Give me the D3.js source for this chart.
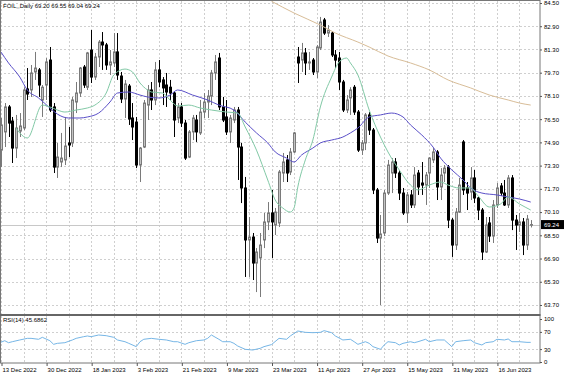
<!DOCTYPE html>
<html>
<head>
<meta charset="utf-8">
<script src="https://cdn.jsdelivr.net/npm/d3@7"></script>
<style>
  html, body { margin: 0; padding: 0; background: #fff; }
  svg { display: block; font-family: "Liberation Sans", Arial, sans-serif; }
</style>
</head>
<body>
<svg id="chart" width="564" height="376"></svg>
<script>
// daily candles (one entry per bar, oldest first)
var opens = [
  74.37, 75.62, 77.34, 76.37, 74.51, 75.68, 75.89, 78.58, 78.51, 79.75,
  79.89, 77.82, 78.85, 80.57, 77.34, 73.20, 73.55, 73.69, 74.86, 74.86,
  77.68, 78.30, 80.09, 78.70, 81.26, 79.40, 80.78, 81.81, 81.61, 80.23,
  80.37, 81.13, 79.47, 77.89, 78.78, 76.58, 76.30, 73.34, 74.58, 77.47,
  78.51, 77.82, 79.89, 79.20, 78.85, 78.70, 78.30, 76.58, 77.34, 76.23,
  73.89, 75.62, 76.44, 75.55, 76.99, 77.68, 78.09, 79.68, 80.71, 77.34,
  76.65, 75.62, 76.44, 77.13, 74.58, 71.76, 68.18, 68.38, 66.59, 66.94,
  68.18, 69.42, 70.04, 69.21, 69.35, 72.79, 73.69, 72.86, 74.24, 80.78,
  80.57, 81.06, 80.37, 80.57, 79.75, 81.40, 83.33, 82.43, 82.43, 80.92,
  80.71, 79.06, 77.13, 77.96, 78.70, 76.99, 74.37, 74.86, 76.79, 75.75,
  71.62, 68.31, 68.66, 71.41, 72.79, 73.55, 72.79, 71.41, 70.04, 71.28,
  70.59, 72.79, 72.10, 71.96, 72.79, 73.69, 74.24, 71.83, 72.79, 73.20,
  69.55, 67.83, 70.10, 74.93, 71.76, 71.48, 72.45, 71.07, 70.24, 67.35,
  69.35, 68.45, 70.59, 71.90, 71.41, 70.59, 72.45, 69.55, 69.21, 69.42,
  67.83, 69.20
];
var highs = [
  76.58, 77.61, 77.47, 76.65, 76.79, 76.92, 78.70, 80.02, 80.23, 81.13,
  80.02, 78.85, 80.71, 81.47, 77.61, 74.86, 75.55, 76.65, 75.96, 78.03,
  79.06, 80.09, 80.23, 81.13, 82.64, 81.06, 81.95, 82.50, 81.75, 81.26,
  82.43, 82.43, 79.75, 79.20, 78.92, 77.61, 76.65, 74.58, 77.82, 78.85,
  79.06, 80.44, 80.57, 79.40, 79.68, 79.20, 78.37, 77.61, 77.61, 76.44,
  75.75, 76.79, 76.79, 77.82, 78.30, 78.51, 79.89, 80.92, 81.06, 78.03,
  77.82, 76.79, 77.34, 77.34, 74.86, 72.52, 69.76, 68.66, 67.62, 68.66,
  70.04, 70.79, 71.62, 70.38, 73.00, 74.17, 74.03, 74.51, 75.62, 81.47,
  81.75, 81.40, 81.13, 80.71, 81.61, 83.54, 83.47, 82.98, 82.57, 81.26,
  81.13, 79.20, 78.16, 78.70, 78.85, 77.13, 75.06, 76.92, 76.99, 75.89,
  71.76, 69.90, 71.62, 73.69, 73.82, 73.82, 73.00, 71.76, 71.48, 71.62,
  73.20, 73.00, 73.55, 72.86, 73.89, 74.51, 74.37, 73.13, 73.34, 73.34,
  69.69, 70.38, 72.45, 75.06, 72.17, 73.20, 73.00, 71.14, 70.38, 69.76,
  69.76, 70.93, 72.10, 72.10, 72.31, 72.65, 72.65, 69.90, 70.04, 69.69,
  69.90, 69.55
];
var lows = [
  73.20, 74.58, 75.27, 73.48, 73.82, 75.27, 75.75, 77.82, 78.03, 79.20,
  78.03, 76.65, 77.82, 76.99, 72.79, 72.45, 73.20, 73.34, 73.89, 74.58,
  76.92, 78.03, 78.65, 78.51, 78.99, 79.20, 80.09, 79.89, 79.89, 79.54,
  80.09, 79.20, 77.61, 76.58, 76.10, 75.06, 73.13, 72.17, 74.51, 76.44,
  77.13, 77.47, 78.70, 77.47, 77.34, 77.82, 75.27, 76.23, 75.96, 73.69,
  73.82, 75.06, 74.93, 75.41, 76.58, 76.58, 77.47, 79.20, 77.13, 76.30,
  75.41, 74.86, 76.23, 72.31, 70.72, 65.63, 65.63, 65.42, 64.59, 64.25,
  67.62, 68.86, 66.94, 68.52, 69.07, 72.17, 72.17, 72.65, 74.17, 78.99,
  79.75, 79.54, 79.89, 79.54, 79.33, 81.26, 82.30, 82.16, 80.78, 80.02,
  78.51, 76.99, 76.92, 76.79, 76.79, 74.24, 74.03, 74.37, 75.41, 71.34,
  67.97, 63.70, 68.45, 71.28, 71.41, 72.45, 70.93, 69.90, 69.35, 70.38,
  70.38, 71.28, 71.28, 70.59, 71.76, 73.48, 70.93, 70.93, 72.17, 69.00,
  67.01, 67.49, 70.04, 71.28, 70.24, 70.93, 70.72, 69.55, 66.80, 67.28,
  68.04, 67.97, 70.38, 71.21, 70.52, 70.38, 68.86, 67.49, 68.73, 67.14,
  67.49, 69.04
];
var closes = [
  76.10, 77.34, 76.23, 74.51, 75.89, 76.03, 78.51, 78.23, 79.68, 80.02,
  78.85, 78.70, 80.44, 77.13, 73.20, 73.89, 73.82, 74.65, 74.72, 77.82,
  78.30, 80.02, 78.85, 81.06, 79.40, 80.78, 81.81, 81.61, 80.23, 80.44,
  81.13, 79.54, 77.89, 78.92, 76.51, 75.96, 73.34, 74.51, 77.61, 78.51,
  77.82, 79.89, 79.06, 78.65, 78.37, 78.30, 76.44, 77.34, 76.23, 73.82,
  75.62, 76.58, 75.62, 76.99, 77.68, 78.09, 79.68, 80.44, 77.34, 76.44,
  75.62, 76.58, 77.13, 74.58, 71.76, 68.18, 68.38, 66.59, 67.35, 67.83,
  69.42, 70.04, 69.42, 70.10, 72.86, 73.55, 72.79, 74.24, 75.55, 80.37,
  81.06, 80.37, 80.44, 79.75, 81.47, 83.19, 82.43, 82.64, 80.92, 80.57,
  79.06, 77.13, 77.82, 78.51, 76.99, 74.37, 74.86, 76.79, 75.75, 71.62,
  68.31, 68.59, 71.41, 73.34, 73.55, 72.79, 71.41, 70.04, 71.28, 70.59,
  72.65, 71.83, 71.96, 72.65, 73.82, 74.24, 71.83, 72.65, 73.13, 69.55,
  67.83, 70.10, 71.96, 71.62, 71.41, 72.45, 71.07, 70.24, 67.35, 69.21,
  68.45, 70.59, 71.76, 71.41, 70.59, 72.45, 69.55, 69.21, 69.42, 67.83,
  69.62, 69.24
];

// moving averages, sampled along each line: bar index + value
var maFastIdx = [4, 5, 7, 11, 13, 15, 17, 20, 23, 25, 28, 30, 33, 35, 37, 39, 40, 43, 45, 47,
  50, 53, 56, 60, 63, 65, 68, 71, 73, 75, 77, 78, 79, 81, 83, 85, 88, 90, 92, 93,
  95, 98, 101, 103, 106, 109, 111, 114, 117, 119, 122, 125, 127, 130, 133, 135, 138, 141];
var maFastVal = [75.89, 75.55, 75.20, 77.47, 77.34, 77.13, 76.99, 77.13, 77.27, 77.47,
  78.30, 79.54, 79.95, 79.75, 78.99, 78.51, 78.37, 78.30, 77.82, 77.41,
  77.47, 77.27, 77.13, 76.99, 76.92, 75.96, 74.37, 72.31, 70.93, 70.38,
  70.10, 70.38, 71.83, 73.69, 75.06, 77.34, 79.40, 80.44, 80.71, 80.37,
  79.54, 77.13, 75.27, 74.24, 73.00, 71.96, 71.62, 71.96, 72.17, 71.96,
  71.76, 71.76, 71.21, 70.45, 70.66, 71.14, 70.66, 70.24];

var maMidIdx = [0, 2, 5, 7, 10, 13, 15, 18, 21, 23, 26, 29, 31, 34, 37, 39, 42, 45, 47, 51,
  55, 58, 62, 65, 68, 71, 73, 76, 78, 80, 83, 85, 88, 91, 93, 95, 98, 101, 104, 107,
  109, 112, 115, 117, 120, 123, 125, 128, 132, 135, 138, 141];
var maMidVal = [81.12, 80.37, 79.40, 78.51, 77.96, 77.27, 76.85, 76.58, 76.58, 76.65,
  76.92, 77.68, 78.30, 78.37, 78.16, 78.03, 77.96, 78.16, 78.51, 78.16,
  77.82, 77.47, 77.13, 76.30, 75.55, 74.86, 74.24, 73.82, 73.55, 74.03,
  74.51, 74.86, 75.06, 75.27, 75.55, 75.89, 76.65, 76.79, 76.92, 76.65,
  76.10, 75.41, 74.58, 73.82, 73.00, 72.31, 71.76, 71.41, 71.28, 71.14,
  71.00, 70.79];

var maSlowIdx = [72, 78, 85, 89, 95, 98, 103, 109, 114, 119, 125, 130, 135, 138, 141];
var maSlowVal = [84.62, 83.81, 82.98, 82.43, 81.81, 81.47, 80.85, 80.37, 79.89, 79.20,
  78.65, 78.16, 77.82, 77.61, 77.47];

// RSI(14), sampled along the line
var rsiIdx = [0, 1, 2, 3, 5, 7, 8, 10, 11, 13, 14, 15, 17, 19, 20, 22, 23, 24, 26, 28,
  30, 31, 33, 34, 36, 37, 38, 40, 42, 44, 46, 47, 49, 50, 52, 54, 55, 56, 58, 59,
  61, 62, 63, 65, 67, 69, 70, 72, 74, 76, 77, 79, 81, 83, 85, 86, 88, 89, 91, 93,
  94, 95, 97, 98, 99, 101, 102, 103, 105, 106, 107, 109, 110, 111, 113, 114, 116, 118, 119, 120,
  121, 123, 125, 126, 128, 129, 131, 132, 134, 135, 136, 138, 140, 141];
var rsiVal = [46.0, 49.5, 44.9, 47.2, 51.2, 55.0, 55.0, 52.8, 57.4, 49.6, 41.1, 43.4, 44.9, 51.2, 55.0, 58.9, 60.5, 58.9, 62.8, 61.2,
  57.4, 51.2, 47.2, 43.4, 35.7, 47.2, 52.8, 55.0, 52.8, 51.2, 47.2, 47.2, 41.1, 44.9, 49.5, 51.2, 55.0, 62.8, 52.8, 47.2,
  47.2, 43.4, 37.2, 29.5, 27.9, 31.8, 35.7, 40.5, 55.0, 52.8, 60.5, 72.1, 69.0, 68.2, 69.0, 72.9, 68.2, 60.5, 51.2, 52.8,
  47.2, 41.1, 47.2, 43.4, 35.7, 29.5, 39.5, 47.2, 44.9, 39.5, 43.4, 47.2, 44.9, 47.2, 52.8, 47.2, 51.2, 51.2, 43.4, 35.7,
  47.2, 49.5, 51.2, 44.9, 39.5, 44.9, 47.2, 52.8, 51.2, 53.5, 47.2, 47.2, 45.7, 45.7];

var priceTicks = [84.50, 82.90, 81.30, 79.70, 78.10, 76.50, 74.90, 73.30, 71.70, 70.10, 68.50, 66.90, 65.30, 63.70];
var rsiTicks = [100, 70, 30, 0];
var rsiLevels = [70, 30];
var dateIdx = [0, 12, 24, 36, 48, 60, 72, 84, 96, 108, 120, 132];
var dateLabels = ["13 Dec 2022", "30 Dec 2022", "18 Jan 2023", "3 Feb 2023", "21 Feb 2023", "9 Mar 2023",
  "23 Mar 2023", "11 Apr 2023", "27 Apr 2023", "15 May 2023", "31 May 2023", "16 Jun 2023"];
var lastPrice = 69.24;

var svg = d3.select("#chart");
var plotR = 540, mainTop = 1, mainBot = 314, rsiTop = 316, rsiBot = 363;
var n = closes.length;

var x = d3.scaleLinear().domain([0, n - 1]).range([1, 1 + 3.757 * (n - 1)]);
var y = d3.scaleLinear().domain([63.70, 84.50]).range([305, 3]);
var yr = d3.scaleLinear().domain([0, 100]).range([362, 319]);

var defs = svg.append("defs");
defs.append("clipPath").attr("id", "clipMain").append("rect")
  .attr("x", 0).attr("y", mainTop).attr("width", plotR).attr("height", mainBot - mainTop);
defs.append("clipPath").attr("id", "clipRsi").append("rect")
  .attr("x", 0).attr("y", rsiTop).attr("width", plotR).attr("height", rsiBot - rsiTop);

function px(v) { return Math.round(v) + 0.5; }

// grid
var grid = svg.append("g").attr("stroke", "#cfcfcf").attr("stroke-dasharray", "2,2").attr("stroke-width", 1);
var vIdx = d3.range(0, n, 6);
grid.selectAll("line.vm").data(vIdx).enter().append("line")
  .attr("x1", function(d) { return px(x(d)); }).attr("x2", function(d) { return px(x(d)); })
  .attr("y1", mainTop).attr("y2", mainBot);
grid.selectAll("line.vr").data(vIdx).enter().append("line")
  .attr("x1", function(d) { return px(x(d)); }).attr("x2", function(d) { return px(x(d)); })
  .attr("y1", rsiTop).attr("y2", rsiBot);
grid.selectAll("line.h").data(priceTicks).enter().append("line")
  .attr("x1", 0).attr("x2", plotR)
  .attr("y1", function(d) { return px(y(d)); }).attr("y2", function(d) { return px(y(d)); });
grid.selectAll("line.hr").data(rsiLevels).enter().append("line")
  .attr("x1", 0).attr("x2", plotR)
  .attr("y1", function(d) { return px(yr(d)); }).attr("y2", function(d) { return px(yr(d)); });

var main = svg.append("g").attr("clip-path", "url(#clipMain)");

// bid line
main.append("line")
  .attr("x1", 0).attr("x2", plotR)
  .attr("y1", px(y(lastPrice))).attr("y2", px(y(lastPrice)))
  .attr("stroke", "#c8c8c8");

// candles
var bars = d3.range(n);
var candle = main.selectAll("g.c").data(bars).enter().append("g");
candle.append("line")
  .attr("x1", function(i) { return px(x(i)); }).attr("x2", function(i) { return px(x(i)); })
  .attr("y1", function(i) { return y(highs[i]); }).attr("y2", function(i) { return y(lows[i]); })
  .attr("stroke", function(i) { return closes[i] >= opens[i] ? "#7a7a7a" : "#000"; });
candle.append("rect")
  .attr("x", function(i) { return px(x(i)) - 1; })
  .attr("width", 2)
  .attr("y", function(i) { return y(Math.max(opens[i], closes[i])); })
  .attr("height", function(i) { return Math.max(0.6, Math.abs(y(opens[i]) - y(closes[i]))); })
  .attr("fill", function(i) { return closes[i] >= opens[i] ? "#c4c4c4" : "#000"; })
  .attr("stroke", function(i) { return closes[i] >= opens[i] ? "#7a7a7a" : "#000"; })
  .attr("stroke-width", 1);

// moving averages
function maLine(idx, val, colour) {
  var pts = idx.map(function(d, k) { return [d, val[k]]; });
  main.append("path")
    .attr("d", d3.line().x(function(p) { return x(p[0]); }).y(function(p) { return y(p[1]); })
      .curve(d3.curveMonotoneX)(pts))
    .attr("fill", "none").attr("stroke", colour).attr("stroke-width", 1);
}
maLine(maSlowIdx, maSlowVal, "#d8bd98");
maLine(maMidIdx, maMidVal, "#5a4fc8");
maLine(maFastIdx, maFastVal, "#82c9a6");

// RSI
var rsiG = svg.append("g").attr("clip-path", "url(#clipRsi)");
var rsiPts = rsiIdx.map(function(d, k) { return [d, rsiVal[k]]; });
rsiG.append("path")
  .attr("d", d3.line().x(function(p) { return x(p[0]); }).y(function(p) { return yr(p[1]); })(rsiPts))
  .attr("fill", "none").attr("stroke", "#76b6e6").attr("stroke-width", 1);

// frame
svg.append("rect").attr("x", 0.5).attr("y", 0.5).attr("width", plotR - 0.5).attr("height", rsiBot - 0.5)
  .attr("fill", "none").attr("stroke", "#777");
svg.append("line").attr("x1", 0).attr("x2", plotR + 0.5).attr("y1", 315).attr("y2", 315)
  .attr("stroke", "#666").attr("stroke-width", 2);

// axes
function styleAxis(g) {
  g.select(".domain").remove();
  g.selectAll(".tick line").attr("stroke", "#555");
  g.selectAll("text").attr("fill", "#000").style("font-size", "6px");
}
svg.append("g").attr("transform", "translate(" + plotR + ",0)")
  .call(d3.axisRight(y).tickValues(priceTicks).tickFormat(d3.format(".2f")).tickSize(2).tickPadding(2))
  .call(styleAxis);
svg.append("g").attr("transform", "translate(" + plotR + ",0)")
  .call(d3.axisRight(yr).tickValues(rsiTicks).tickFormat(d3.format("d")).tickSize(2).tickPadding(2))
  .call(styleAxis);
var xAxis = svg.append("g").attr("transform", "translate(0," + rsiBot + ")")
  .call(d3.axisBottom(x).tickValues(dateIdx).tickFormat(function(d, k) { return dateLabels[k]; })
    .tickSize(3).tickPadding(2))
  .call(styleAxis);
xAxis.selectAll(".tick line").attr("transform", "translate(0.5,0)");
xAxis.selectAll(".tick text").attr("text-anchor", "start").attr("x", 1);

// last price tag
var ty = y(lastPrice);
svg.append("rect").attr("x", plotR + 1).attr("y", ty - 4.5).attr("width", 23).attr("height", 9).attr("fill", "#000");
svg.append("text").attr("x", plotR + 4).attr("y", ty).attr("dy", "0.34em")
  .attr("fill", "#fff").style("font-size", "6px").text(d3.format(".2f")(lastPrice));

// titles
svg.append("text").attr("x", 3).attr("y", 8).style("font-size", "6px").attr("fill", "#000")
  .text("FOIL,,Daily " + [opens[n - 1], highs[n - 1], lows[n - 1], closes[n - 1]].map(d3.format(".2f")).join(" "));
svg.append("text").attr("x", 3).attr("y", 322).style("font-size", "6px").attr("fill", "#000")
  .text("RSI(14) 45.6862");
</script>
</body>
</html>
